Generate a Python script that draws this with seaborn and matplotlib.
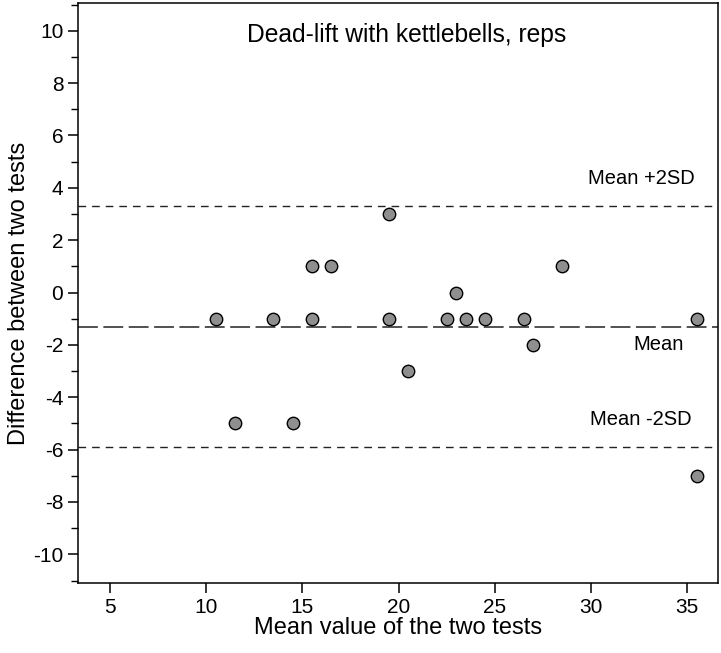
import matplotlib
matplotlib.use('Agg')

import pandas as pd
import matplotlib.pyplot as plt
import seaborn as sns
from matplotlib.ticker import MultipleLocator

# Bland-Altman data
mean_value = [10.5, 11.5, 13.5, 14.5, 15.5, 15.5, 16.5, 19.5, 19.5, 20.5,
              22.5, 23.0, 23.5, 24.5, 26.5, 27.0, 28.5, 35.5, 35.5]
difference = [-1, -5, -1, -5, 1, -1, 1, 3, -1, -3,
              -1, 0, -1, -1, -1, -2, 1, -1, -7]

mean_line = -1.3
upper_line = 3.3
lower_line = -5.9

df = pd.DataFrame({"mean": mean_value, "diff": difference})

sns.set_theme(style="ticks", rc={"text.color": "black", "axes.labelcolor": "black",
                                 "xtick.color": "black", "ytick.color": "black"})
plt.rcParams['font.family'] = ['Liberation Sans', 'DejaVu Sans']
plt.rcParams['axes.unicode_minus'] = False

fig, ax = plt.subplots(figsize=(7.21, 6.53), dpi=100)
fig.subplots_adjust(left=0.108, right=0.996, top=0.995, bottom=0.107)

sns.scatterplot(x="mean", y="diff", data=df, ax=ax, s=80, color="#8f8f8f",
                edgecolor="black", linewidth=1.0, zorder=3)

ax.axhline(upper_line, color="#222222", lw=1.0, linestyle=(0, (5.5, 4.3)))
ax.axhline(lower_line, color="#222222", lw=1.0, linestyle=(0, (5.5, 4.3)))
ax.axhline(mean_line, color="#222222", lw=1.1, linestyle=(0, (13, 3.6)))

ax.text(35.4, 4.35, "Mean +2SD", ha="right", va="center", fontsize=14.5)
ax.text(34.8, -1.98, "Mean", ha="right", va="center", fontsize=14.5)
ax.text(35.2, -4.85, "Mean -2SD", ha="right", va="center", fontsize=14.5)
ax.text(20.43, 9.85, "Dead-lift with kettlebells, reps", ha="center",
        va="center", fontsize=17.7)

ax.set_xlim(3.34, 36.6)
ax.set_ylim(-11.1, 11.05)
ax.set_xticks([5, 10, 15, 20, 25, 30, 35])
ax.set_yticks(range(-10, 11, 2))
ax.yaxis.set_minor_locator(MultipleLocator(1))

ax.set_xlabel("Mean value of the two tests", fontsize=17, labelpad=0)
ax.set_ylabel("Difference between two tests", fontsize=17, labelpad=2)

for s in ax.spines.values():
    s.set_visible(True)
    s.set_linewidth(1.1)
    s.set_color("black")

ax.tick_params(axis="both", which="major", direction="out", length=7,
               width=1.1, labelsize=15, color="black")
ax.tick_params(axis="y", which="minor", direction="out", length=5, width=1.0)
ax.tick_params(axis="x", pad=4)

plt.savefig("out.png", dpi=100)
